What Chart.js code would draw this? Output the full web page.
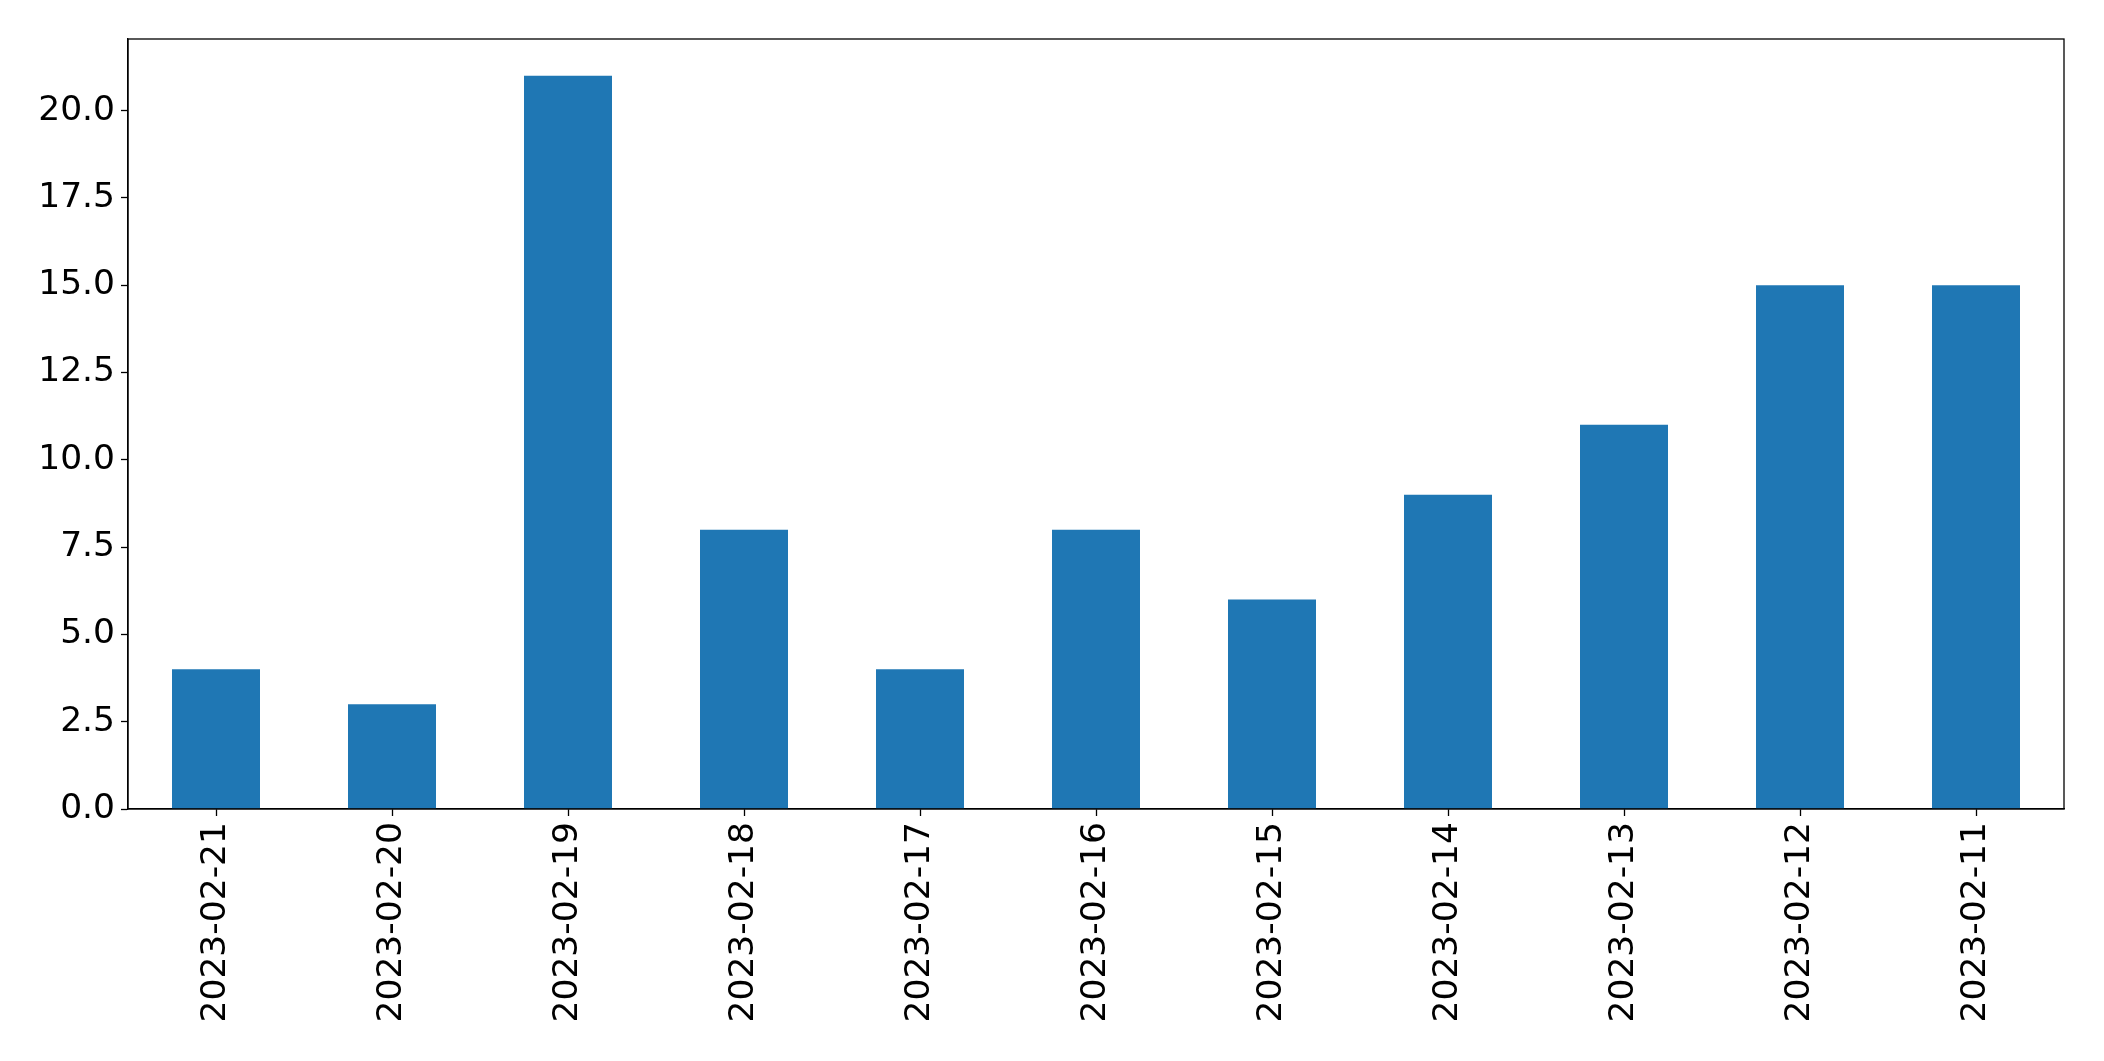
<!DOCTYPE html>
<html>
<head>
<meta charset="utf-8">
<script src="https://cdn.jsdelivr.net/npm/chart.js@4/dist/chart.umd.min.js"></script>
<style>
    html, body { margin: 0; padding: 0; background: #fff; }
    #wrap { width: 2104px; height: 1061px; }
</style>
</head>
<body>
<div id="wrap"><canvas id="barChart" width="2104" height="1061"></canvas></div>
<script>
// ─── Data ───────────────────────────────────────────────
const DATES = ['2023-02-21', '2023-02-20', '2023-02-19', '2023-02-18', '2023-02-17',
               '2023-02-16', '2023-02-15', '2023-02-14', '2023-02-13', '2023-02-12', '2023-02-11'];
const COUNTS = [4, 3, 21, 8, 4, 8, 6, 9, 11, 15, 15];
const Y_TICKS = [0, 2.5, 5, 7.5, 10, 12.5, 15, 17.5, 20];
const Y_MAX = 22.05;

const BAR_COLOR = '#1f77b4';
const FONT = { family: "'DejaVu Sans', sans-serif", size: 34.5 };

Chart.defaults.color = '#000';
Chart.defaults.font.family = FONT.family;

// draws the top and right sides of the axes box
const frameBox = {
    id: 'frameBox',
    afterDraw(chart) {
        const { ctx, chartArea: a } = chart;
        ctx.save();
        ctx.strokeStyle = '#000';
        ctx.lineWidth = 1.3;
        ctx.strokeRect(a.left, a.top, a.right - a.left, a.bottom - a.top);
        ctx.restore();
    }
};

new Chart(document.getElementById('barChart'), {
    type: 'bar',
    data: {
        labels: DATES,
        datasets: [{
            data: COUNTS,
            backgroundColor: BAR_COLOR,
            borderWidth: 0,
            categoryPercentage: 1.0,
            barPercentage: 0.5
        }]
    },
    options: {
        responsive: false,
        devicePixelRatio: 1,
        animation: false,
        layout: {
            padding: { left: 0, top: 39, right: 40, bottom: 0 }
        },
        plugins: {
            legend: { display: false },
            tooltip: { enabled: false }
        },
        scales: {
            x: {
                grid: {
                    offset: false,
                    drawOnChartArea: false,
                    color: 'rgba(0,0,0,0)',
                    tickColor: '#000',
                    tickLength: 7,
                    tickWidth: 1.3
                },
                border: { display: true, color: '#000', width: 1.3 },
                ticks: {
                    minRotation: 90,
                    maxRotation: 90,
                    autoSkip: false,
                    padding: 6,
                    font: FONT
                },
                afterFit(scale) {
                    scale.height = 252;
                }
            },
            y: {
                min: 0,
                max: Y_MAX,
                grid: {
                    drawOnChartArea: false,
                    color: 'rgba(0,0,0,0)',
                    tickColor: '#000',
                    tickLength: 7,
                    tickWidth: 1.3
                },
                border: { display: true, color: '#000', width: 1.3 },
                ticks: {
                    padding: 6,
                    font: FONT,
                    callback: function(value) {
                        return Number(value).toFixed(1);
                    }
                },
                afterBuildTicks(scale) {
                    scale.ticks = Y_TICKS.map(v => ({ value: v }));
                },
                afterFit(scale) {
                    scale.width = 128;
                }
            }
        }
    },
    plugins: [frameBox]
});
</script>
</body>
</html>
